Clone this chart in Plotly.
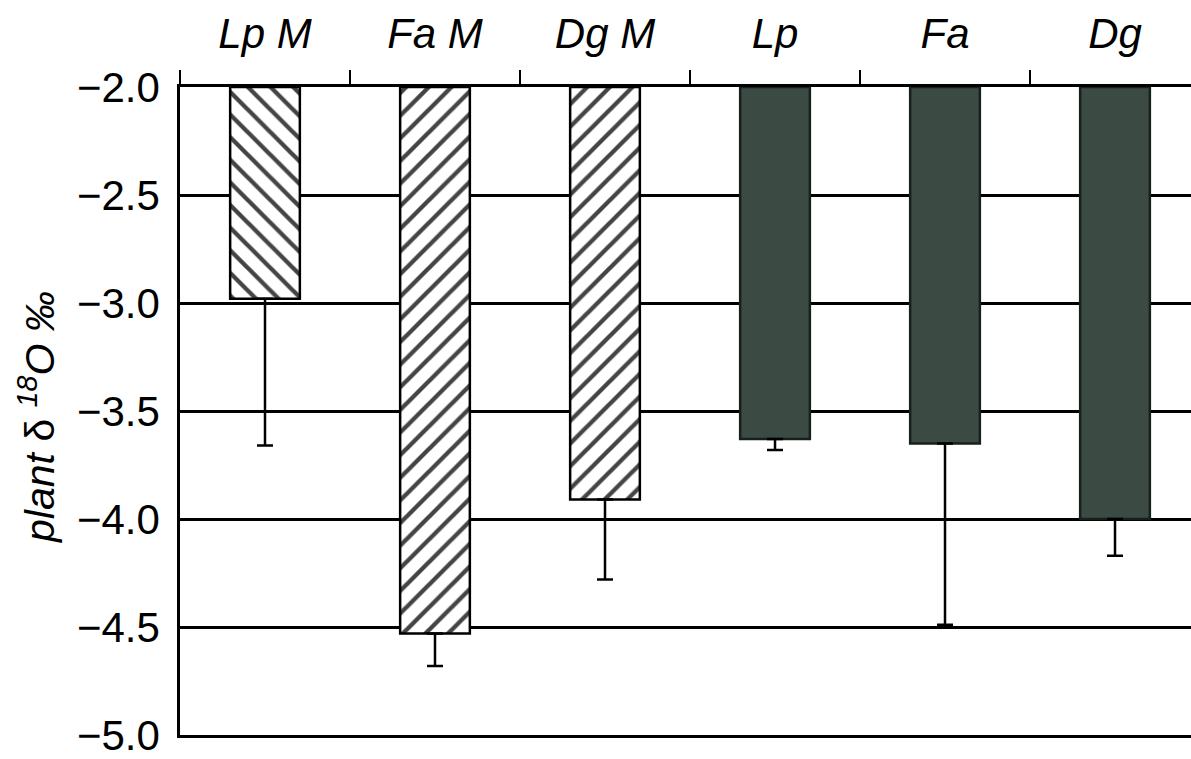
import plotly.graph_objects as go

categories = ["Lp M", "Fa M", "Dg M", "Lp", "Fa", "Dg"]
values = [-2.98, -4.53, -3.91, -3.63, -3.65, -4.00]
errors = [0.68, 0.15, 0.37, 0.05, 0.84, 0.17]
patterns = ["\\", "/", "/", "", "", ""]
fills = ["white", "white", "white", "#3b4a43", "#3b4a43", "#3b4a43"]
outlines = ["black", "black", "black", "#17211c", "#17211c", "#17211c"]
base_level = -2.0
y_ticks = [-5.0, -4.5, -4.0, -3.5, -3.0, -2.5, -2.0]

FONT = "Liberation Sans, Arial, sans-serif"

fig = go.Figure()
fig.add_trace(go.Bar(
    x=categories,
    y=[v - base_level for v in values],
    base=base_level,
    width=0.41,
    marker=dict(
        color=fills,
        line=dict(color=outlines, width=2.5),
        pattern=dict(shape=patterns, fgcolor="black", fgopacity=1,
                     size=16, solidity=0.27, fillmode="overlay"),
    ),
    error_y=dict(type="data", symmetric=False, array=[0] * len(errors),
                 arrayminus=errors, color="black", thickness=2.5, width=8),
    showlegend=False,
))

fig.update_layout(
    width=1191, height=759,
    margin=dict(l=180, r=0, t=87, b=22),
    paper_bgcolor="white", plot_bgcolor="white",
    font=dict(family=FONT, color="black"),
    xaxis=dict(
        type="category", side="top", range=[-0.5, 5.447],
        showline=True, linecolor="black", linewidth=2.5, mirror=True,
        ticks="outside", tickson="boundaries", ticklen=14, tickwidth=2, tickcolor="black",
        showgrid=False, ticklabelstandoff=19,
        tickfont=dict(family=FONT, size=42, style="italic", color="black"),
    ),
    yaxis=dict(
        range=[-5.0, -2.0], tickvals=y_ticks, tickformat=".1f",
        showline=True, linecolor="black", linewidth=2.5,
        showgrid=True, gridcolor="black", gridwidth=2.5,
        ticks="", ticklabelstandoff=9, zeroline=False,
        ticklabeloverflow="allow",
        tickfont=dict(family=FONT, size=42, color="black"),
    ),
    annotations=[dict(
        text="<i>plant</i> δ <i><sup>18</sup>O ‰</i>", textangle=-90,
        xref="paper", yref="paper", x=-0.141, y=0.49,
        xanchor="center", yanchor="middle", showarrow=False,
        font=dict(family=FONT, size=41, color="black"),
    )],
)

fig.write_html("out.html")
